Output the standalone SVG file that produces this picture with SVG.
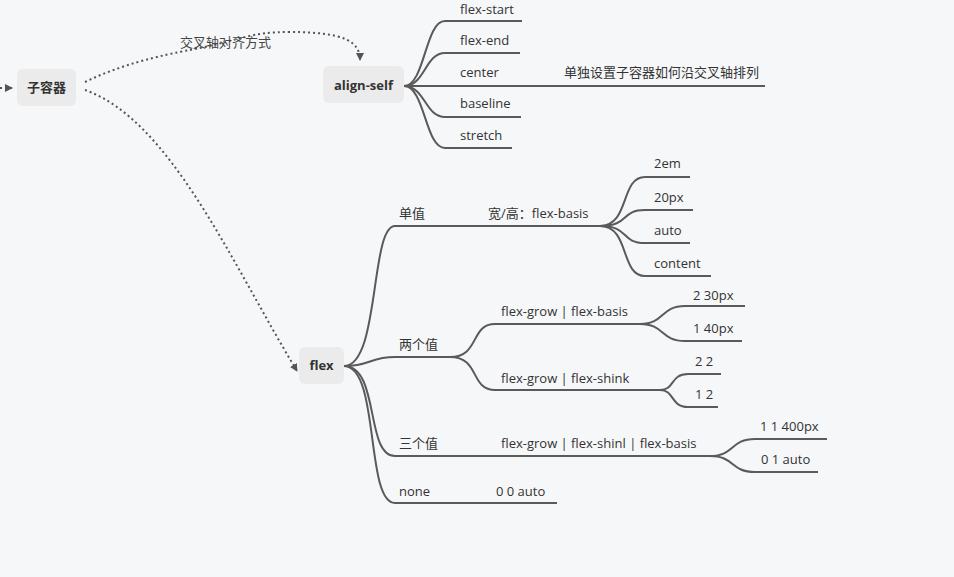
<svg xmlns="http://www.w3.org/2000/svg" width="954" height="577" viewBox="0 0 954 577">
<defs>
<marker id="ar" markerWidth="8" markerHeight="8" refX="7" refY="4" orient="auto" markerUnits="userSpaceOnUse"><path d="M0,0 L8,4 L0,8 Z" fill="#555"/></marker>
<style>
text{font-family:"Open Sans","Noto Sans CJK SC",sans-serif;font-size:13px;fill:#333}
.b{font-weight:bold;text-anchor:middle}
.n{fill:#ebebeb}
.l{fill:none;stroke:#5a5a5a;stroke-width:2}
.d{fill:none;stroke:#555;stroke-width:2;stroke-dasharray:2 3}
</style>
</defs>
<rect width="954" height="577" fill="#f6f7f9"/>
<g id="connectors">
<path class="d" d="M0,88 L12,88" marker-end="url(#ar)"/>
<path class="d" d="M85,82 C130,60 180,52 200,48 C240,40 250,32 290,32 C345,32 360,42 360,60" marker-end="url(#ar)"/>
<path class="d" d="M85,90 C170,120 230,260 297,371" marker-end="url(#ar)"/>
<g class="l">
<path class="l" d="M404,86 C425,86 425,21 445,21 L522,21"/>
<path class="l" d="M404,86 C425,86 425,53 445,53 L520,53"/>
<path class="l" d="M404,86 L765,86"/>
<path class="l" d="M404,86 C425,86 425,117 445,117 L521,117"/>
<path class="l" d="M404,86 C425,86 425,148 445,148 L512,148"/>
<path class="l" d="M344,366 C380,366 370,226 395,226 L600,226"/>
<path class="l" d="M600,226 C630,226 620,177 645,177 L690,177"/>
<path class="l" d="M600,226 C630,226 620,210 645,210 L693,210"/>
<path class="l" d="M600,226 C630,226 620,243 645,243 L690,243"/>
<path class="l" d="M600,226 C630,226 620,276 645,276 L711,276"/>
<path class="l" d="M344,366 C370,366 370,357 395,357 L450,357"/>
<path class="l" d="M450,357 C480,357 470,324 495,324 L640,324"/>
<path class="l" d="M450,357 C480,357 470,390 495,390 L660,390"/>
<path class="l" d="M640,324 C665,324 660,306 685,306 L745,306"/>
<path class="l" d="M640,324 C665,324 660,341 685,341 L742,341"/>
<path class="l" d="M660,390 C675,390 670,374 688,374 L721,374"/>
<path class="l" d="M660,390 C675,390 670,407 688,407 L718,407"/>
<path class="l" d="M344,366 C380,366 365,456 395,456 L710,456"/>
<path class="l" d="M710,456 C735,456 730,439 755,439 L827,439"/>
<path class="l" d="M710,456 C735,456 730,472 755,472 L818,472"/>
<path class="l" d="M344,366 C380,366 365,503 395,503 L557,503"/>
</g>
</g>
<text x="180" y="47" style="fill:#444">交叉轴对齐方式</text>
<g id="n-zirongqi"><rect class="n" x="17" y="69" width="59" height="37" rx="6"/><text class="b" x="46.5" y="92">子容器</text></g>
<g id="n-alignself"><rect class="n" x="323" y="66" width="81" height="37" rx="6"/><text class="b" x="363.5" y="90">align-self</text></g>
<g id="n-flex"><rect class="n" x="299" y="347" width="45" height="37" rx="6"/><text class="b" x="321.5" y="370">flex</text></g>
<g id="n-as-children">
<text x="460" y="14">flex-start</text>
<text x="460" y="45">flex-end</text>
<text x="460" y="77">center</text>
<text x="564" y="77">单独设置子容器如何沿交叉轴排列</text>
<text x="460" y="108">baseline</text>
<text x="460" y="140">stretch</text>
</g>
<g id="n-flex-children">
<text x="399" y="218">单值</text>
<text x="488" y="218">宽/高：flex-basis</text>
<text x="654" y="168">2em</text>
<text x="654" y="202">20px</text>
<text x="654" y="235">auto</text>
<text x="654" y="268">content</text>
<text x="399" y="349">两个值</text>
<text x="501" y="316">flex-grow | flex-basis</text>
<text x="501" y="383">flex-grow | flex-shink</text>
<text x="693" y="300">2 30px</text>
<text x="693" y="333">1 40px</text>
<text x="695" y="366">2 2</text>
<text x="695" y="399">1 2</text>
<text x="399" y="448">三个值</text>
<text x="501" y="448">flex-grow | flex-shinl | flex-basis</text>
<text x="760" y="431">1 1 400px</text>
<text x="761" y="464">0 1 auto</text>
<text x="399" y="496">none</text>
<text x="496" y="496">0 0 auto</text>
</g>
</svg>
